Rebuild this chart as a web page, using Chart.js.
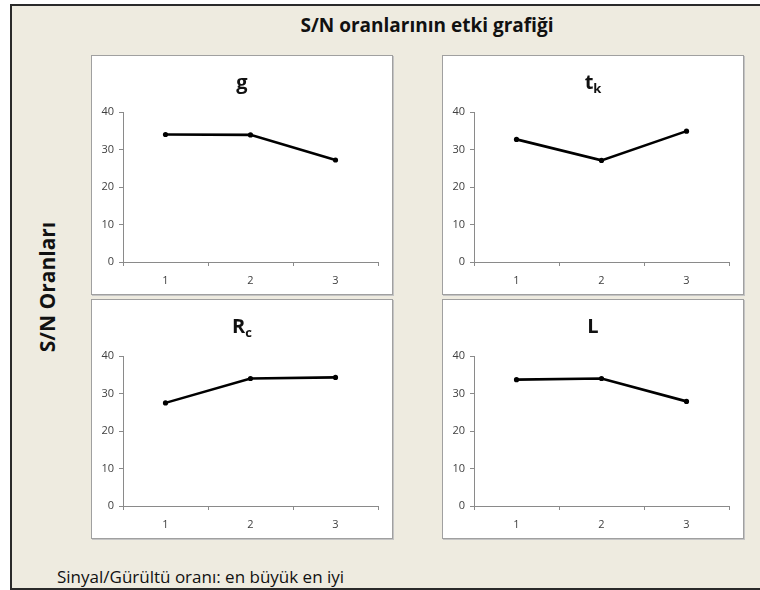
<!DOCTYPE html>
<html>
<head>
<meta charset="utf-8">
<script src="https://cdn.jsdelivr.net/npm/chart.js@4.4.0/dist/chart.umd.min.js"></script>
<style>
  html, body { margin:0; padding:0; background:#ffffff; }
  body { width:760px; height:590px; position:relative; overflow:hidden; font-family:"Open Sans", sans-serif; }
  #frame { position:absolute; left:10px; top:4px; width:760px; height:582px; background:#EEEBE0;
           border-left:2px solid #2a2a2a; border-top:2px solid #2a2a2a; border-bottom:2px solid #2a2a2a; }
  #mainTitle { position:absolute; left:0; width:854px; top:12px; text-align:center; font-weight:bold; font-size:19px; line-height:26px; color:#111; }
  #yLabel { position:absolute; left:47px; top:287px; transform:translate(-50%,-50%) rotate(-90deg); white-space:nowrap;
            font-weight:bold; font-size:21px; color:#111; }
  #footer { position:absolute; left:57px; top:566px; font-size:17px; line-height:22px; color:#111; white-space:nowrap; }
  .panel { position:absolute; width:300px; height:238px; background:#fff; border:1px solid #a0a0a0;
           box-shadow:1px 1px 0 #c4c4c4; }
  .panel canvas { position:absolute; left:0; top:0; }
</style>
</head>
<body>
<div id="frame"></div>
<div id="mainTitle">S/N oranlarının etki grafiği</div>
<div id="yLabel">S/N Oranları</div>
<div id="footer">Sinyal/Gürültü oranı: en büyük en iyi</div>
<div class="panel" style="left:91px;top:55px;"><canvas id="c0" width="300" height="238"></canvas></div>
<div class="panel" style="left:442px;top:55px;"><canvas id="c1" width="300" height="238"></canvas></div>
<div class="panel" style="left:91px;top:299px;"><canvas id="c2" width="300" height="238"></canvas></div>
<div class="panel" style="left:442px;top:299px;"><canvas id="c3" width="300" height="238"></canvas></div>
<script>
// ---- data ----
const levels = ['1', '2', '3'];
const yTicks = [0, 10, 20, 30, 40];
const titleMain = ['g', 't', 'R', 'L'];
const titleSub = ['', 'k', 'c', ''];
const gValues = [34.0, 33.9, 27.2];
const tkValues = [32.7, 27.1, 34.9];
const rcValues = [27.5, 34.0, 34.3];
const lValues = [33.7, 34.0, 27.9];
const seriesList = [gValues, tkValues, rcValues, lValues];

const FONT = '"Open Sans", sans-serif';

const subTitlePlugin = {
  id: 'subTitle',
  afterDraw(chart, args, opts) {
    const ctx = chart.ctx;
    ctx.save();
    ctx.fillStyle = '#111';
    ctx.textBaseline = 'alphabetic';
    ctx.font = 'bold 20px ' + FONT;
    const mw = ctx.measureText(opts.main).width;
    ctx.font = 'bold 13px ' + FONT;
    const sw = opts.sub ? ctx.measureText(opts.sub).width : 0;
    const total = mw + sw;
    const x0 = chart.width / 2 - total / 2;
    const base = 33;
    ctx.font = 'bold 20px ' + FONT;
    ctx.textAlign = 'left';
    ctx.fillText(opts.main, x0, base);
    if (opts.sub) {
      ctx.font = 'bold 13px ' + FONT;
      ctx.fillText(opts.sub, x0 + mw, base + 4);
    }
    ctx.restore();
  }
};

seriesList.forEach((vals, i) => {
  new Chart(document.getElementById('c' + i), {
    type: 'line',
    data: {
      labels: levels,
      datasets: [{
        data: vals,
        borderColor: '#000',
        backgroundColor: '#000',
        borderWidth: 2.6,
        pointRadius: 2.6,
        pointBorderWidth: 0,
        tension: 0
      }]
    },
    options: {
      responsive: false,
      animation: false,
      events: [],
      layout: { padding: { top: 56, right: 14, left: 0, bottom: 0 } },
      plugins: {
        legend: { display: false },
        tooltip: { enabled: false },
        title: { display: false },
        subTitle: { main: titleMain[i], sub: titleSub[i] }
      },
      scales: {
        x: {
          type: 'category',
          offset: true,
          grid: { offset: true, drawOnChartArea: false, drawTicks: true, tickLength: 4, color: '#8a8a8a' },
          border: { display: true, color: '#8a8a8a', width: 1 },
          ticks: { color: '#404040', font: { family: FONT, size: 11 }, padding: 8 },
          afterFit(scale) { scale.height = 32; }
        },
        y: {
          min: 0, max: 40,
          grid: { drawOnChartArea: false, drawTicks: true, tickLength: 4, color: '#8a8a8a' },
          border: { display: true, color: '#8a8a8a', width: 1 },
          ticks: { stepSize: 10, color: '#404040', font: { family: FONT, size: 11 }, padding: 5,
                   callback: (v) => yTicks.includes(v) ? String(v) : '' },
          afterFit(scale) { scale.width = 31; }
        }
      }
    },
    plugins: [subTitlePlugin]
  });
});
</script>
</body>
</html>
